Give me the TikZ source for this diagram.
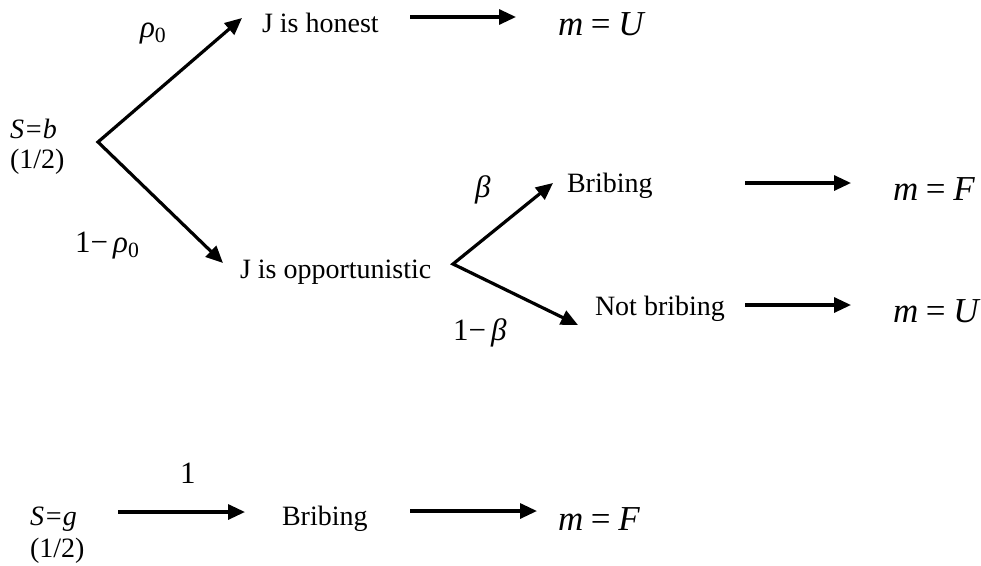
\documentclass[tikz,border=0pt]{standalone}
\usepackage{fontspec}
\setmainfont{Liberation Serif}
\usepackage{tikz}
\usetikzlibrary{arrows.meta}
\newcommand{\igual}[2]{\textit{#1}\hspace{0.22em}=\hspace{0.22em}\textit{#2}}
\tikzset{
  rotulo/.style={anchor=base west, inner sep=0pt, outer sep=0pt, font=\fontsize{28}{32}\selectfont},
  prob/.style={rotulo, font=\fontsize{31}{34}\selectfont},
  result/.style={rotulo, font=\fontsize{35}{38}\selectfont},
  seta/.style={-{Triangle[length=17pt,width=15pt]}, line width=3.2pt},
  ramo/.style={{Triangle[length=17pt,width=15pt]}-{Triangle[length=17pt,width=15pt]}, line width=3.2pt, line join=miter},
}
\begin{document}
\begin{tikzpicture}[x=1pt, y=-1pt]
  \useasboundingbox (0,0) rectangle (981,565);
  % estado S=b
  \node[rotulo] (sb) at (10,138) {\textit{S=b}};
  \node[rotulo] (sbh) at (10,168) {(1/2)};
  \coordinate (raizb) at (98,142);
  \node[prob] (rho) at (140,37) {\textit{ρ}\textsubscript{0}};
  \node[prob] (umrho) at (75,252) {1−\,\textit{ρ}\textsubscript{0}};
  \node[rotulo] (honest) at (262,32) {J is honest};
  \node[result] (mu1) at (558,35) {\igual{m}{U}};
  \node[rotulo] (opp) at (240,278) {J is opportunistic};
  \draw[ramo] ([xshift=-20pt,yshift=14pt]honest.base west) -- (raizb) -- ([xshift=-17pt,yshift=15pt]opp.base west);
  \draw[seta] ([xshift=148pt,yshift=15pt]honest.base west) -- ([xshift=-42pt,yshift=18pt]mu1.base west);
  % juiz oportunista
  \coordinate (raizj) at (453,264);
  \node[prob] (beta) at (475,197) {\textit{β}};
  \node[prob] (umbeta) at (453,340) {1−\,\textit{β}};
  \node[rotulo] (bribe) at (567,192) {Bribing};
  \node[rotulo] (notb) at (595,315) {Not bribing};
  \node[result] (mf1) at (893,200) {\igual{m}{F}};
  \node[result] (mu2) at (893,322) {\igual{m}{U}};
  \draw[ramo] ([xshift=-14pt,yshift=9pt]bribe.base west) -- (raizj) -- ([xshift=-17pt,yshift=-10pt]notb.base west);
  \draw[seta] ([xshift=178pt,yshift=9pt]bribe.base west) -- ([xshift=-42pt,yshift=17pt]mf1.base west);
  \draw[seta] ([xshift=150pt,yshift=10pt]notb.base west) -- ([xshift=-42pt,yshift=17pt]mu2.base west);
  % estado S=g
  \node[rotulo] (sg) at (30,525) {\textit{S=g}};
  \node[rotulo] (sgh) at (30,557) {(1/2)};
  \node[prob] (um) at (180,483) {1};
  \node[rotulo] (bribe2) at (282,525) {Bribing};
  \node[result] (mf2) at (558,530) {\igual{m}{F}};
  \draw[seta] ([xshift=88pt,yshift=13pt]sg.base west) -- ([xshift=-37pt,yshift=13pt]bribe2.base west);
  \draw[seta] ([xshift=128pt,yshift=14pt]bribe2.base west) -- ([xshift=-21pt,yshift=19pt]mf2.base west);
\end{tikzpicture}
\end{document}
